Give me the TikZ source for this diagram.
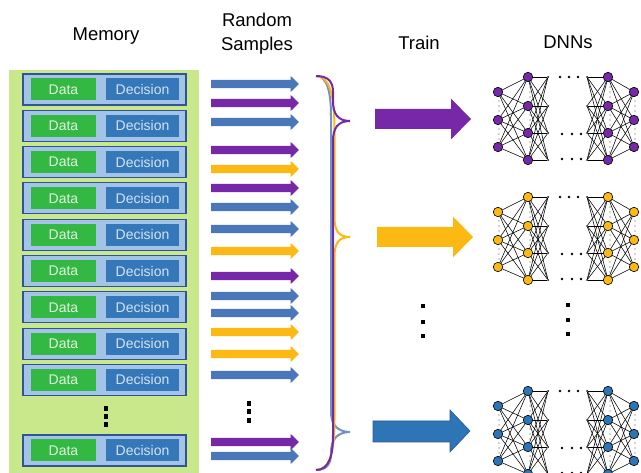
\documentclass[tikz,border=0pt]{standalone}
\usepackage{fontspec}
\setmainfont{Liberation Sans}
\definecolor{memgreen}{HTML}{C9E88C}
\definecolor{rowblue}{HTML}{A3C4E6}
\definecolor{rowedge}{HTML}{2F5597}
\definecolor{datagreen}{HTML}{33B843}
\definecolor{decblue}{HTML}{3578BA}
\definecolor{datatxt}{HTML}{E2F3E2}
\definecolor{dectxt}{HTML}{D6E2F2}
\definecolor{cpurple}{HTML}{7628A8}
\definecolor{cyellow}{HTML}{FDB913}
\definecolor{cblue}{HTML}{4A76BA}
\definecolor{cbigblue}{HTML}{2E75B6}
\definecolor{cbrace}{HTML}{6F93C9}
\tikzset{
  title/.style={font=\fontsize{18.5}{22}\selectfont, align=center, inner sep=0pt},
  rowbox/.style={draw=rowedge, line width=1.1pt, fill=rowblue, minimum width=163pt, minimum height=31pt, inner sep=0pt},
  databox/.style={fill=datagreen, text=datatxt, minimum width=65pt, minimum height=22pt, inner sep=0pt, font=\fontsize{14}{16}\selectfont},
  decbox/.style={fill=decblue, text=dectxt, minimum width=73pt, minimum height=22pt, inner sep=0pt, font=\fontsize{14}{16}\selectfont},
  sqdot/.style={fill=black, minimum width=4pt, minimum height=5pt, inner sep=0pt},
  smdot/.style={fill=black, minimum width=3.5pt, minimum height=4pt, inner sep=0pt},
  neuron/.style={circle, draw=black, line width=0.6pt, minimum size=9.5pt, inner sep=0pt},
  pt/.style={circle, fill=black, minimum size=2pt, inner sep=0pt},
  tiny/.style={circle, fill=black!70, minimum size=1.2pt, inner sep=0pt},
  edge/.style={draw=black, line width=0.55pt},
  brace/.style={line width=2pt},
}
\newcommand{\smarrow}[2]{%
  \fill[#2] (211,#1-4.2) -- (290.5,#1-4.2) -- (290.5,#1-8.2) -- (299,#1) -- (290.5,#1+8.2) -- (290.5,#1+4.2) -- (211,#1+4.2) -- cycle;}
\newcommand{\bigarrow}[4]{% y, xstart, tip, color
  \fill[#4] (#2,#1-10) -- (#3-20,#1-10) -- (#3-20,#1-20.5) -- (#3,#1) -- (#3-20,#1+20.5) -- (#3-20,#1+10) -- (#2,#1+10) -- cycle;}
\newcommand{\bracepath}[5]{% tip y, vertical x, color, top curl, bottom curl
  \draw[brace, #3] (316,76) .. controls ({#2-4},76) and (#2,{76+0.4*#4}) .. (#2,{76+#4}) -- (#2,#1-20) .. controls (#2,#1-7) and (338,#1) .. (350,#1) .. controls (338,#1) and (#2,#1+7) .. (#2,#1+20) -- (#2,{470-#5}) .. controls (#2,{470-0.4*#5}) and ({#2-4},470) .. (316,470);}
\begin{document}
\begin{tikzpicture}[x=1pt, y=-1pt]
\useasboundingbox (0,0) rectangle (641,473);
% titles
\node[title] (tmem) at (106,36) {Memory};
\node[title] (trs) at (257,33.5) {Random\\[1.5pt]Samples};
\node[title] (ttr) at (419,42.5) {Train};
\node[title] (tdnn) at (568,42.5) {DNNs};
% memory
\fill[memgreen] (9,70) rectangle (199,473);
\foreach \i/\y in {1/89.5,2/125.8,3/162.1,4/198.4,5/234.7,6/271,7/307.3,8/343.6,9/379.9,10/450.5} {
  \node[rowbox] (row\i) at (104.5,\y) {};
  \node[databox] (data\i) at (63.5,\y) {Data};
  \node[decbox] (dec\i) at (142.5,\y) {Decision};
}
\node[sqdot] (md1) at (106,408.5) {};
\node[sqdot] (md2) at (106,416.5) {};
\node[sqdot] (md3) at (106,425) {};
% random sample arrows
\foreach \y/\c in {84/cblue,103/cpurple,122/cblue,150/cpurple,169/cyellow,188/cpurple,207/cblue,229/cblue,251/cyellow,276/cpurple,296/cblue,313/cblue,332/cyellow,354/cyellow,375/cblue,442/cpurple,456/cblue} {
  \smarrow{\y}{\c}
}
\node[sqdot] (rd1) at (249,404) {};
\node[sqdot] (rd2) at (249,412) {};
\node[sqdot] (rd3) at (249,420.5) {};
% braces
\bracepath{432}{331}{cbrace}{40}{16}
\bracepath{237}{334.5}{cyellow}{55}{50}
\bracepath{121}{333}{cpurple}{16}{35}
% train arrows
\bigarrow{119}{375}{471}{cpurple}
\bigarrow{237}{377}{473}{cyellow}
\fill[cbigblue, draw=rowedge, line width=0.6pt] (373,421) -- (450,421) -- (450,410) -- (470,431) -- (450,452) -- (450,442) -- (373,442) -- cycle;
\node[smdot] (td1) at (423,306) {};
\node[smdot] (td2) at (423,322) {};
\node[smdot] (td3) at (423,336) {};
\node[smdot] (nd1) at (568,305) {};
\node[smdot] (nd2) at (568,320) {};
\node[smdot] (nd3) at (568,334) {};
% DNNs
\foreach \k/\off/\c in {1/0/cpurple,2/120/cyellow,3/314/cbigblue} {
  \foreach \j/\y in {1/92,2/120,3/147} {
    \coordinate (n\k a\j) at (498,\y+\off);
    \coordinate (n\k f\j) at (634,\y+\off);
  }
  \foreach \j/\y in {1/77,2/106,3/133,4/160} {
    \coordinate (n\k b\j) at (528,\y+\off);
    \node[pt] (n\k c\j) at (548,\y+\off) {};
    \node[pt] (n\k d\j) at (587,\y+\off) {};
    \coordinate (n\k e\j) at (608,\y+\off);
  }
  \foreach \a in {1,2,3} \foreach \b in {1,2,3,4} {
    \draw[edge] (n\k a\a) -- (n\k b\b);
    \draw[edge] (n\k e\b) -- (n\k f\a);
  }
  \foreach \a in {1,2,3,4} \foreach \b in {1,2,3,4} {
    \draw[edge] (n\k b\a) -- (n\k c\b);
    \draw[edge] (n\k d\a) -- (n\k e\b);
  }
  % small dots between neurons within a layer
  \foreach \y [count=\q] in {101,106,111,129,134,139} {
    \node[tiny] (s\k a\q) at (499,\y+\off) {};
    \node[tiny] (s\k f\q) at (635,\y+\off) {};
  }
  \foreach \y [count=\q] in {87,92,97,115,120,125,142,147,152} {
    \node[tiny] (s\k b\q) at (530,\y+\off) {};
    \node[tiny] (s\k e\q) at (610,\y+\off) {};
  }
  \foreach \j in {1,2,3} {
    \node[neuron, fill=\c] (N\k a\j) at (n\k a\j) {};
    \node[neuron, fill=\c] (N\k f\j) at (n\k f\j) {};
  }
  \foreach \j in {1,2,3,4} {
    \node[neuron, fill=\c] (N\k b\j) at (n\k b\j) {};
    \node[neuron, fill=\c] (N\k e\j) at (n\k e\j) {};
  }
  \foreach \x in {560,569,578} \node[pt, minimum size=2.6pt] (e\k t\x) at (\x,77+\off) {};
  \foreach \x in {562,572,581} {
    \node[pt, minimum size=2.6pt] (e\k m\x) at (\x,134+\off) {};
    \node[pt, minimum size=2.6pt] (e\k l\x) at (\x,159+\off) {};
  }
}
\end{tikzpicture}
\end{document}
